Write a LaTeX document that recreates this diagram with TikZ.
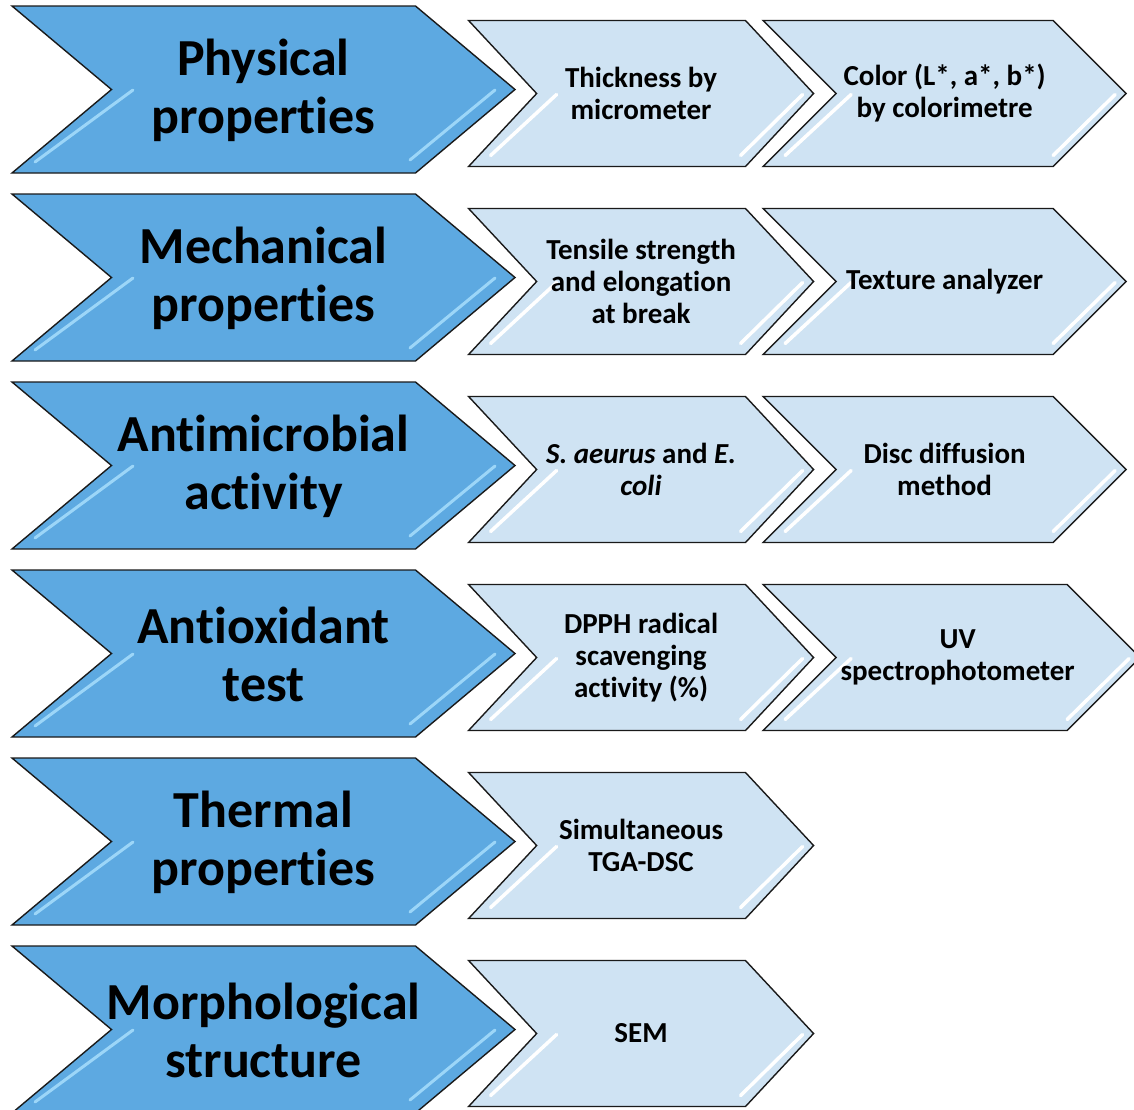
\documentclass[tikz,border=0pt]{standalone}
\usepackage{fontspec}
\setmainfont[Ligatures={NoCommon}]{Carlito}
\usepackage{xcolor}
\definecolor{chevBlue}{HTML}{5DA9E1}
\definecolor{chevLight}{HTML}{CFE3F3}
\definecolor{chevEdge}{HTML}{1A1A1A}
\definecolor{chevGlow}{HTML}{9CD6F8}
\usetikzlibrary{shapes.symbols,positioning,calc}
\tikzset{
    bigchev/.style={
        draw=chevEdge,
        fill=chevBlue,
        signal,
        signal from=west,
        signal to=east,
        signal pointer angle=80,
        minimum width=503pt,
        minimum height=167pt,
        inner sep=0pt,
        line width=1.4pt,
        path picture={
            \draw[chevGlow, line width=3pt, line cap=round]
                ($(path picture bounding box.south west)+(121pt,83pt)$) -- ++(-98pt,-72pt);
            \draw[chevGlow, line width=3pt, line cap=round]
                ($(path picture bounding box.south east)+(-20pt,83pt)$) -- ++(-85pt,-70pt);
        }
    },
    smallchev/.style={
        draw=chevEdge,
        fill=chevLight,
        signal,
        signal from=west,
        signal to=east,
        signal pointer angle=94,
        minimum width=345pt,
        minimum height=146pt,
        inner sep=0pt,
        line width=1.4pt,
        path picture={
            \draw[white, line width=3.5pt, line cap=round]
                ($(path picture bounding box.south west)+(88pt,72pt)$) -- ++(-66pt,-61pt);
            \draw[white, line width=3.5pt, line cap=round]
                ($(path picture bounding box.south east)+(-11pt,72pt)$) -- ++(-62pt,-61pt);
        }
    },
    widechev/.style={
        smallchev,
        signal pointer angle=90,
        minimum width=363pt
    },
    bigtxt/.style={
        font=\bfseries\fontsize{52}{58}\selectfont,
        align=center,
        inner sep=0pt
    },
    smalltxt/.style={
        font=\bfseries\fontsize{29}{32}\selectfont,
        align=center,
        inner sep=0pt
    }
}

\begin{document}
\begin{tikzpicture}
    \useasboundingbox (0pt,0pt) rectangle (1134pt,-1109pt);
    % left column
    \node[bigchev] (phys) at (263.5pt,-89.5pt) {};
    \node[bigchev, below=19.6pt of phys] (mech) {};
    \node[bigchev, below=19.6pt of mech] (micro) {};
    \node[bigchev, below=19.6pt of micro] (oxid) {};
    \node[bigchev, below=19.6pt of oxid] (therm) {};
    \node[bigchev, below=19.6pt of therm] (morph) {};

    % methods
    \node[smallchev, right=19.6pt of phys, yshift=-4pt] (thick) {};
    \node[widechev, right=20.6pt of thick] (color) {};
    \node[smallchev, right=19.6pt of mech, yshift=-4pt] (tensile) {};
    \node[widechev, right=20.6pt of tensile] (texture) {};
    \node[smallchev, right=19.6pt of micro, yshift=-4pt] (bact) {};
    \node[widechev, right=20.6pt of bact] (disc) {};
    \node[smallchev, right=19.6pt of oxid, yshift=-4pt] (dpph) {};
    \node[widechev, minimum width=377pt, right=20.6pt of dpph] (uv) {};
    \node[smallchev, right=19.6pt of therm, yshift=-4pt] (tga) {};
    \node[smallchev, right=19.6pt of morph, yshift=-4pt] (sem) {};

    % texts
    \node[bigtxt] (phys-t) at ([yshift=-1pt]phys.center) {Physical\\properties};
    \node[bigtxt] (mech-t) at ([yshift=-1pt]mech.center) {Mechanical\\properties};
    \node[bigtxt] (micro-t) at ([yshift=-1pt]micro.center) {Antimicrobial\\activity};
    \node[bigtxt] (oxid-t) at ([yshift=-1pt]oxid.center) {Antioxidant\\test};
    \node[bigtxt] (therm-t) at ([yshift=-1pt]therm.center) {Thermal\\properties};
    \node[bigtxt] (morph-t) at ([yshift=-1pt]morph.center) {Morphological\\structure};

    \node[smalltxt] (thick-t) at (thick) {Thickness by\\micrometer};
    \node[smalltxt] (color-t) at (color) {Color (L*, a*, b*)\\by colorimetre};
    \node[smalltxt] (tensile-t) at (tensile) {Tensile strength\\and elongation\\at break};
    \node[smalltxt] (texture-t) at (texture) {Texture analyzer};
    \node[smalltxt] (bact-t) at (bact) {\textit{S. aeurus} and \textit{E.}\\\textit{coli}};
    \node[smalltxt] (disc-t) at (disc) {Disc diffusion\\method};
    \node[smalltxt] (dpph-t) at (dpph) {DPPH radical\\scavenging\\activity (\%)};
    \node[smalltxt] (uv-t) at ([xshift=6pt]uv.center) {UV\\spectrophotometer};
    \node[smalltxt] (tga-t) at (tga) {Simultaneous\\TGA-DSC};
    \node[smalltxt] (sem-t) at (sem) {SEM};
\end{tikzpicture}
\end{document}
